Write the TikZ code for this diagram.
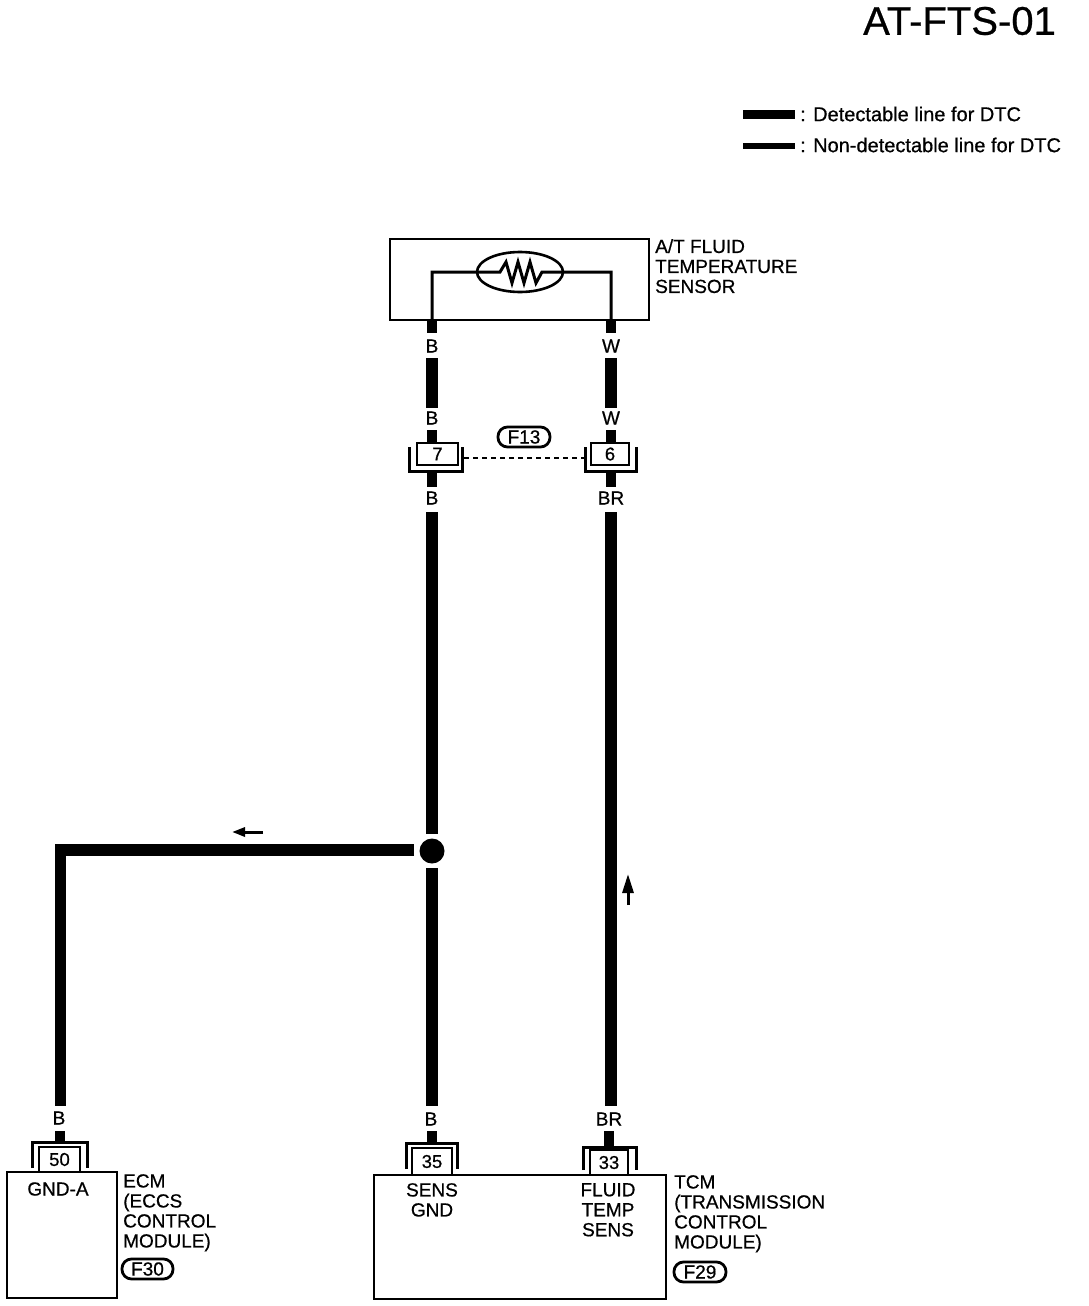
\documentclass[tikz,border=0pt]{standalone}
\usepackage{fontspec}
\setmainfont{Liberation Sans}[FakeBold=0.6]
\usetikzlibrary{arrows.meta,shapes.geometric}
\begin{document}
\begin{tikzpicture}[x=1pt,y=-1pt,
  wire/.style={line width=11.5pt},
  stub/.style={line width=10pt},
  lbl/.style={font=\fontsize{19}{20}\selectfont, inner sep=0pt},
  txt/.style={font=\fontsize{19}{20}\selectfont, inner sep=0pt, align=left, anchor=north west},
  pin/.style={draw, line width=2.8pt, inner sep=0pt, font=\fontsize{18.5}{18}\selectfont},
  bracket/.style={line width=3pt},
  pill/.style={draw, line width=2.8pt, rounded corners=9.5pt, inner sep=0pt, minimum height=20pt, font=\fontsize{19}{18}\selectfont},
  module/.style={draw, line width=2.7pt, inner sep=0pt},
]
\useasboundingbox[fill=white] (0,0) rectangle (1088,1306);

% title and legend
\node[font=\fontsize{40}{40}\selectfont, inner sep=0pt, anchor=east] (title) at (1056,21) {AT-FTS-01};
\coordinate (lgA1) at (743,114); \coordinate (lgA2) at (795,114);
\coordinate (lgB1) at (743,146); \coordinate (lgB2) at (795,146);
\draw[line width=9pt] (lgA1) -- (lgA2);
\draw[line width=5.5pt] (lgB1) -- (lgB2);
\node[font=\fontsize{20}{20}\selectfont, inner sep=0pt, anchor=west] (lgtA) at (800,114) {: Detectable line for DTC};
\node[font=\fontsize{20}{20}\selectfont, inner sep=0pt, anchor=west] (lgtB) at (800,145) {: Non-detectable line for DTC};

% sensor
\node[module, minimum width=259pt, minimum height=81pt] (sensor) at (519.5,279.5) {};
\node[txt] (sensortxt) at (655,239) {A/T FLUID\\TEMPERATURE\\SENSOR};
\coordinate (sL) at (432,320); \coordinate (sR) at (611,320);
\draw[line width=3pt] (sL) -- (432,272) -- (500,272) -- (506,262) -- (512,283) -- (518,262) -- (524,283) -- (530,262) -- (536,283) -- (542,272) -- (611,272) -- (sR);
\node[draw, line width=2.6pt, ellipse, minimum width=86pt, minimum height=40pt, inner sep=0pt] (therm) at (520,272) {};

% wires from sensor to F13
\draw[stub] (sL) -- (432,333);
\draw[stub] (sR) -- (611,333);
\node[lbl] (lb1) at (432,346) {B};
\node[lbl] (lw1) at (611,346) {W};
\draw[wire] (432,358) -- (432,408);
\draw[wire] (611,358) -- (611,408);
\node[lbl] (lb2) at (432,418) {B};
\node[lbl] (lw2) at (611,418) {W};
\draw[stub] (432,430) -- (432,444);
\draw[stub] (611,430) -- (611,444);

% connector F13
\node[pin, minimum width=41pt, minimum height=22pt] (c7) at (437.5,454) {7};
\node[pin, minimum width=38pt, minimum height=22pt] (c6) at (610,454) {6};
\draw[bracket] (409,447) -- (409,471) -- (462,471) -- (462,447);
\draw[bracket] (585,447) -- (585,471) -- (636,471) -- (636,447);
\draw[line width=2.6pt, dash pattern=on 5pt off 4pt] (464,458) -- (584,458);
\node[pill, minimum width=52pt] (f13) at (524,437) {F13};

\draw[stub] (432,472) -- (432,487);
\draw[stub] (611,472) -- (611,487);
\node[lbl] (lb3) at (432,498) {B};
\node[lbl] (lbr1) at (611,498) {BR};

% main wires
\coordinate (jn) at (432,851);
\coordinate (corner) at (60.5,850);
\draw[wire] (432,512) -- (432,834);
\draw[wire] (432,868) -- (432,1106);
\draw[wire] (611,512) -- (611,1106);
\draw[wire, line join=miter] (414,850) -- (corner) -- (60.5,1106);
\fill (jn) circle (12.5pt);

% direction arrows
\draw[line width=3pt, -{Triangle[length=13pt,width=9pt]}] (263,832) -- (232,832);
\draw[line width=3pt, -{Triangle[length=19pt,width=11pt]}] (628,905) -- (628,874);

% bottom labels and stubs
\node[lbl] (lb4) at (59,1118) {B};
\node[lbl] (lb5) at (431,1119) {B};
\node[lbl] (lbr2) at (609,1119) {BR};
\draw[stub] (59.5,1131) -- (59.5,1143);
\draw[stub] (432,1131) -- (432,1144);
\draw[stub] (609,1131) -- (609,1148);

% ECM
\node[module, minimum width=110pt, minimum height=126pt] (ecm) at (62,1235) {};
\node[pin, minimum width=41pt, minimum height=25pt] (c50) at (59.5,1159.5) {50};
\draw[bracket] (32,1168) -- (32,1142) -- (87,1142) -- (87,1168);
\node[lbl] (gnda) at (58,1189) {GND-A};
\node[txt] (ecmtxt) at (123,1174) {ECM\\(ECCS\\CONTROL\\MODULE)};
\node[pill, minimum width=51pt] (f30) at (147.5,1269) {F30};

% TCM
\node[module, minimum width=292pt, minimum height=124pt] (tcm) at (520,1237) {};
\node[pin, minimum width=40pt, minimum height=27pt] (c35) at (432,1161.5) {35};
\node[pin, minimum width=38pt, minimum height=25pt] (c33) at (609,1162.5) {33};
\draw[bracket] (406,1169) -- (406,1143) -- (457,1143) -- (457,1169);
\draw[bracket] (583,1170) -- (583,1147) -- (636,1147) -- (636,1170);
\node[lbl, align=center, anchor=north] (sensgnd) at (432,1183) {SENS\\GND};
\node[lbl, align=center, anchor=north] (fts) at (608,1183) {FLUID\\TEMP\\SENS};
\node[txt] (tcmtxt) at (674,1175) {TCM\\(TRANSMISSION\\CONTROL\\MODULE)};
\node[pill, minimum width=52pt] (f29) at (700,1272) {F29};
\end{tikzpicture}
\end{document}
